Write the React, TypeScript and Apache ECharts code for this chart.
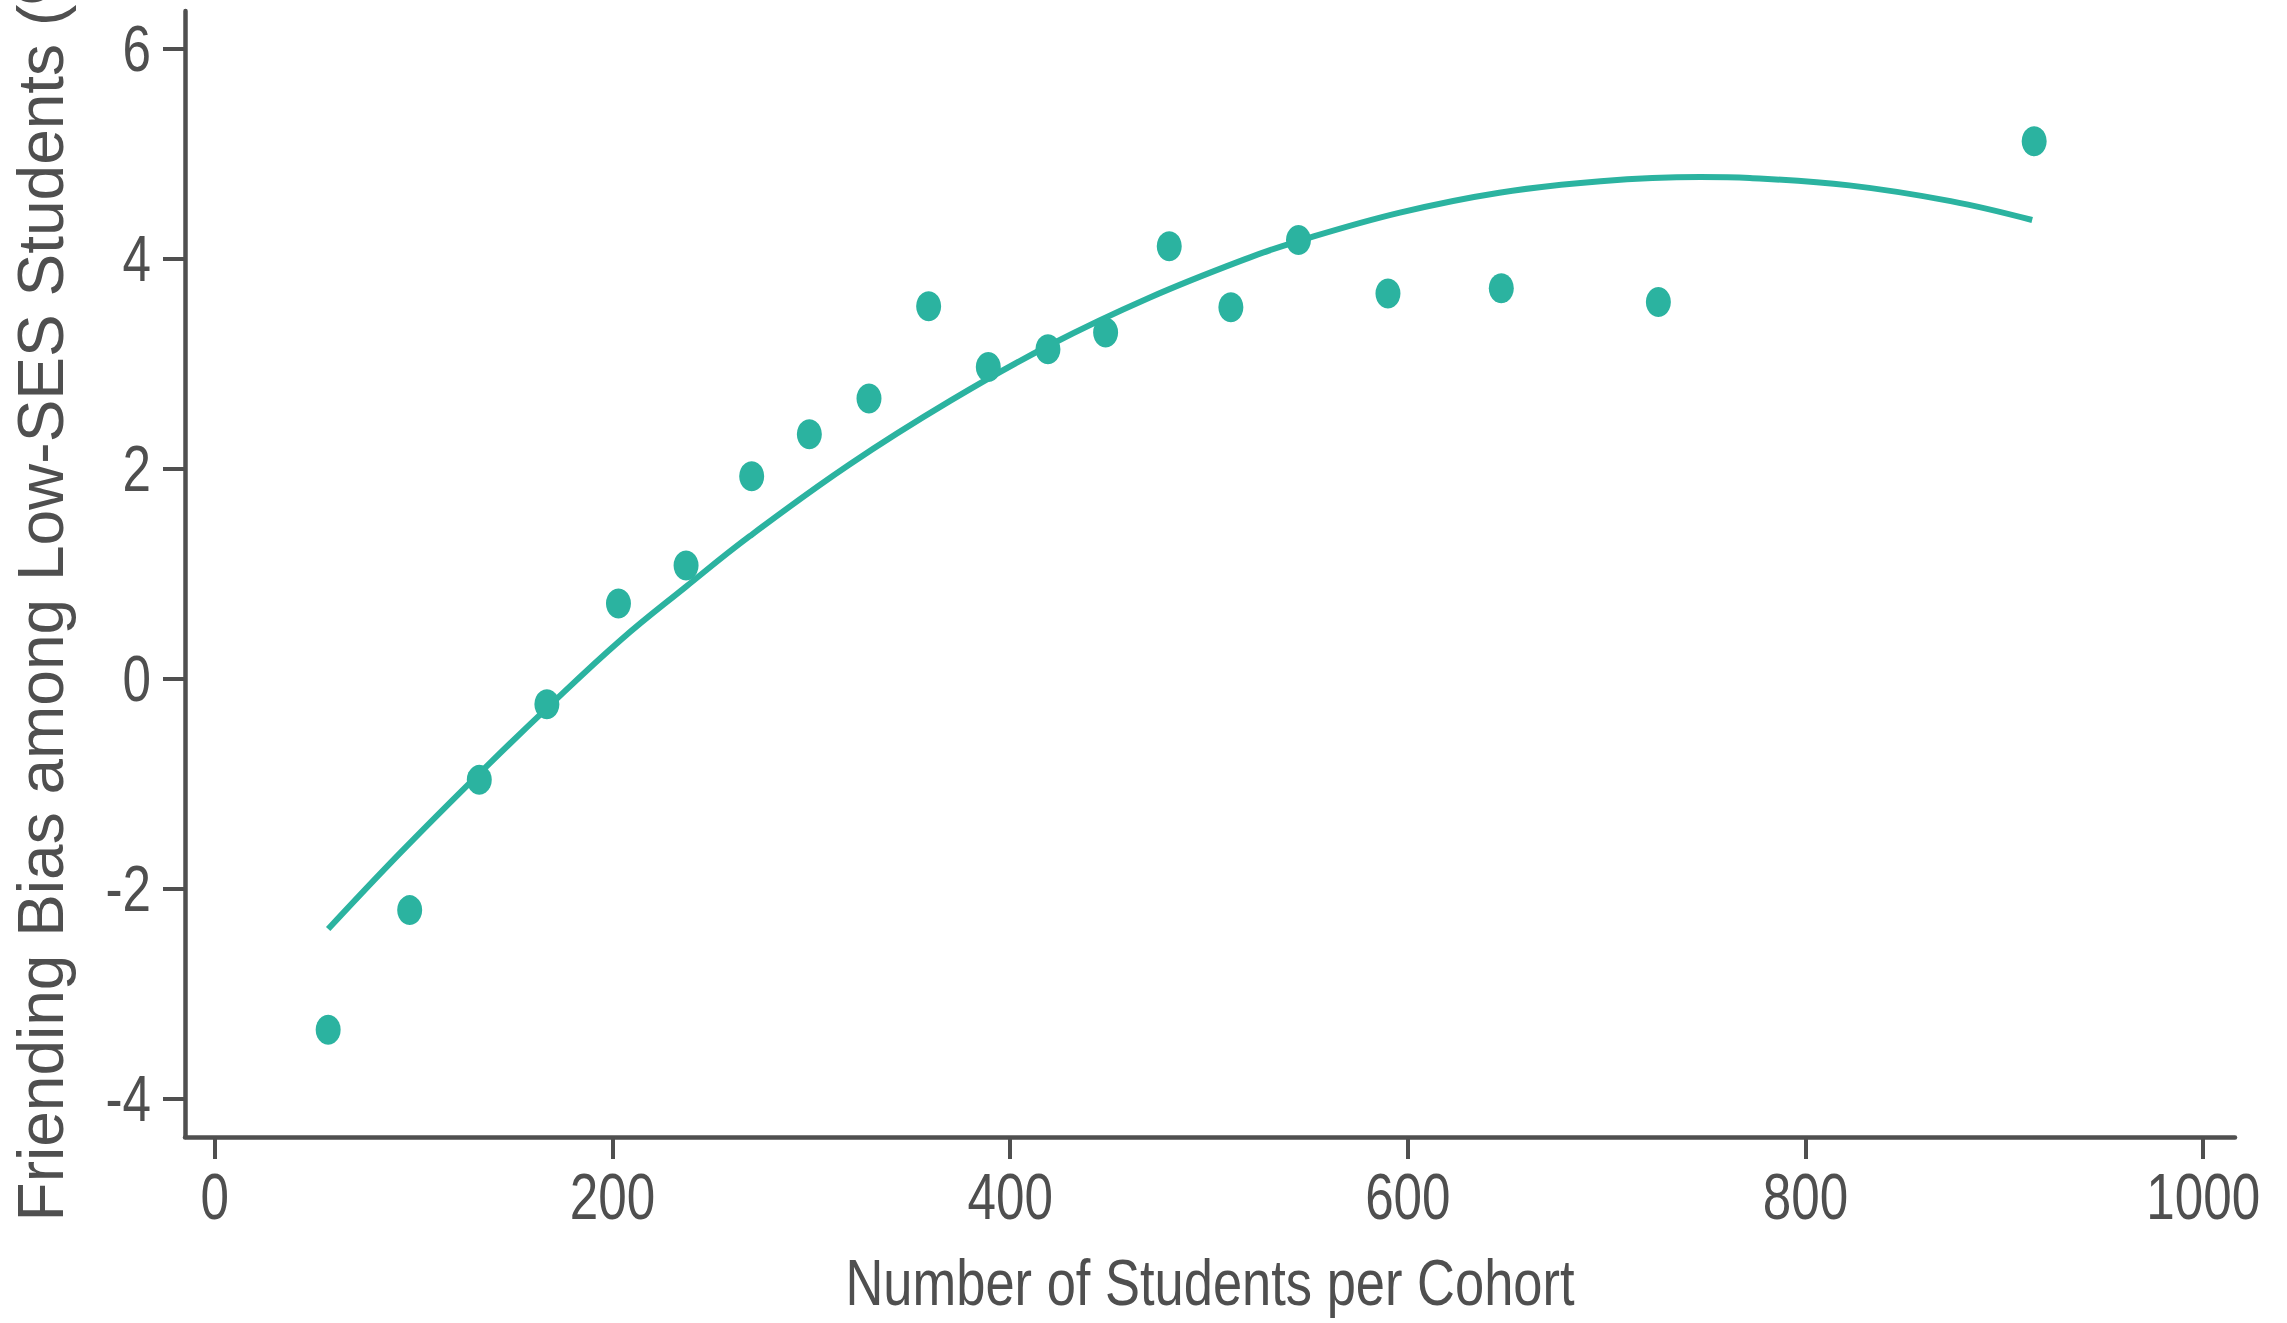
import React, { useEffect, useRef } from "react";
import * as echarts from "echarts";

// Observed cohorts
const cohortSize = [57, 98, 133, 167, 203, 237, 270, 299, 329, 359, 389, 419, 448, 480, 511, 545, 590, 647, 726, 915];
const friendingBias = [-3.34, -2.2, -0.96, -0.24, 0.72, 1.08, 1.93, 2.33, 2.67, 3.55, 2.97, 3.14, 3.3, 4.12, 3.54, 4.18, 3.67, 3.72, 3.59, 5.12];

// Fitted curve
const fitX = [57, 93, 133, 168, 204, 237, 269, 319, 370, 420, 470, 520, 545, 596, 646, 697, 747, 772, 822, 873, 914];
const fitY = [-2.38, -1.66, -0.9, -0.26, 0.37, 0.88, 1.36, 2.04, 2.65, 3.18, 3.63, 4.01, 4.17, 4.44, 4.63, 4.74, 4.78, 4.77, 4.7, 4.55, 4.37];

// Tick labels
const xTicks = [0, 200, 400, 600, 800, 1000];
const yTicks = [-4, -2, 0, 2, 4, 6];

const X_MIN = -15;
const X_MAX = 1016;
const Y_MIN = -4.36;
const Y_MAX = 6.36;

const TEAL = "#2bb3a0";
const INK = "#4f4f4f";
const FONT = "'Liberation Sans', Arial, sans-serif";
const SQUEEZE = 0.8;

export default function App() {
  const ref = useRef<HTMLDivElement>(null);

  useEffect(() => {
    if (!ref.current) return;
    const chart = echarts.init(ref.current, null, { renderer: "svg" });
    chart.setOption({
      animation: false,
      backgroundColor: "#ffffff",
      grid: { left: 185, right: 52, top: 11, bottom: 186, containLabel: false, outerBoundsMode: "none" },
      xAxis: {
        type: "value",
        min: X_MIN,
        max: X_MAX,
        axisLine: { show: true, onZero: false, lineStyle: { color: INK, width: 4.5 } },
        axisTick: { show: true, customValues: xTicks, length: 22, lineStyle: { color: INK, width: 4 } },
        axisLabel: { show: false },
        splitLine: { show: false },
      },
      yAxis: {
        type: "value",
        min: Y_MIN,
        max: Y_MAX,
        name: "Friending Bias among Low-SES Students (%)",
        nameLocation: "middle",
        nameRotate: 90,
        nameGap: 112,
        nameTextStyle: { fontFamily: FONT, fontSize: 64, color: INK },
        axisLine: { show: true, onZero: false, lineStyle: { color: INK, width: 4.5 } },
        axisTick: { show: true, customValues: yTicks, length: 22, lineStyle: { color: INK, width: 4 } },
        axisLabel: { show: false },
        splitLine: { show: false },
      },
      series: [
        {
          type: "line",
          data: fitX.map((x, i) => [x, fitY[i]]),
          showSymbol: false,
          smooth: 0.4,
          lineStyle: { color: TEAL, width: 6, cap: "butt" },
          z: 2,
        },
        {
          type: "scatter",
          data: cohortSize.map((x, i) => [x, friendingBias[i]]),
          symbol: "circle",
          symbolSize: [25, 30],
          itemStyle: { color: TEAL, opacity: 1 },
          z: 3,
        },
      ],
    });

    // Condensed tick labels and x title placed through the chart's own scales
    const axisY = chart.convertToPixel({ gridIndex: 0 }, [0, Y_MIN])[1];
    const axisX = chart.convertToPixel({ gridIndex: 0 }, [X_MIN, 0])[0];
    const rightX = chart.convertToPixel({ gridIndex: 0 }, [X_MAX, 0])[0];
    const textStyle = (text: string, align: string, vAlign: string) => ({
      text,
      fontFamily: FONT,
      fontSize: 64,
      fill: INK,
      textAlign: align,
      textVerticalAlign: vAlign,
      align,
      verticalAlign: vAlign,
    });
    const elements: any[] = [];
    xTicks.forEach((v) => {
      const px = chart.convertToPixel({ gridIndex: 0 }, [v, 0])[0];
      elements.push({
        type: "text",
        x: px,
        y: axisY + 28,
        scaleX: SQUEEZE,
        silent: true,
        style: textStyle(String(v), "center", "top"),
      });
    });
    yTicks.forEach((v) => {
      const py = chart.convertToPixel({ gridIndex: 0 }, [0, v])[1];
      elements.push({
        type: "text",
        x: axisX - 34,
        y: py,
        scaleX: SQUEEZE,
        silent: true,
        style: textStyle(String(v), "right", "middle"),
      });
    });
    elements.push({
      type: "text",
      x: (axisX + rightX) / 2,
      y: axisY + 146,
      scaleX: 0.82,
      silent: true,
      style: textStyle("Number of Students per Cohort", "center", "middle"),
    });
    chart.setOption({ graphic: { elements } });

    return () => chart.dispose();
  }, []);

  return (
    <div
      ref={ref}
      style={{ position: "absolute", left: 0, top: 0, width: 2287, height: 1323 }}
    />
  );
}
